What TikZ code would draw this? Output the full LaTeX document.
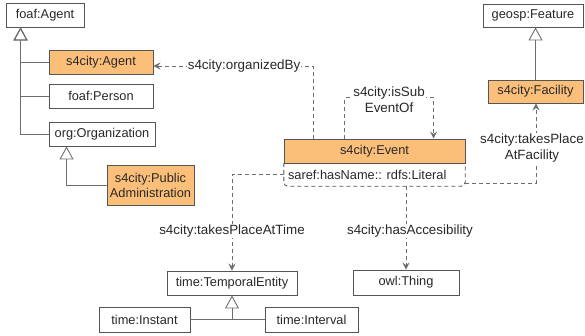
\documentclass[tikz,border=0pt]{standalone}
\usepackage{fontspec}
\setmainfont{Liberation Sans}
\usetikzlibrary{arrows.meta,calc}
\definecolor{orangefill}{RGB}{252,191,122}
\definecolor{boxline}{RGB}{85,85,85}
\definecolor{edgeline}{RGB}{110,110,110}
\definecolor{txt}{RGB}{40,40,40}
\begin{document}
\begin{tikzpicture}[x=1pt,y=-1pt,
  font=\fontsize{12.8}{15}\selectfont,
  cls/.style={draw=boxline, line width=0.9pt, fill=white, inner sep=0pt, text=txt, align=center},
  hl/.style={cls, fill=orangefill},
  isa/.style={draw=edgeline, line width=0.9pt, -{Triangle[open, length=13pt, width=14pt, line width=0.9pt]}},
  dep/.style={draw=edgeline, line width=0.9pt, dash pattern=on 4pt off 3pt, -{Stealth[length=7pt, width=7pt, inset=2.5pt]}},
  lbl/.style={fill=white, text=txt, inner sep=1pt, align=center, font=\fontsize{13.4}{16}\selectfont}
]
\useasboundingbox (0,0) rectangle (585,335);

% classes
\node[cls, minimum width=78pt, minimum height=24pt] (foafAgent) at (45,15) {foaf:Agent};
\node[hl, minimum width=104pt, minimum height=24pt] (s4Agent) at (101,62) {s4city:Agent};
\node[cls, minimum width=104pt, minimum height=24pt] (foafPerson) at (101,96) {foaf:Person};
\node[cls, minimum width=106pt, minimum height=24pt] (orgOrg) at (102,134) {org:Organization};
\node[hl, minimum width=87pt, minimum height=40pt] (pubAdmin) at (150.5,185) {s4city:Public\\Administration};

\node[hl, minimum width=181pt, minimum height=24pt] (event) at (374.5,151) {s4city:Event};
\node[inner sep=0pt, minimum width=181pt, minimum height=23pt] (attr) at (374.5,174.5) {};
\node[anchor=west, text=txt, inner sep=0pt] (attrtxt) at ($(attr.west)+(4,0)$) {saref:hasName:: rdfs:Literal};

\node[cls, minimum width=100pt, minimum height=23pt] (geosp) at (533,15.5) {geosp:Feature};
\node[hl, minimum width=95pt, minimum height=23pt] (facility) at (535.5,91.5) {s4city:Facility};

\node[cls, minimum width=130pt, minimum height=24pt] (temporal) at (232,283) {time:TemporalEntity};
\node[cls, minimum width=106pt, minimum height=25pt] (owlThing) at (406,282.5) {owl:Thing};
\node[cls, minimum width=91pt, minimum height=25pt] (instant) at (144.5,319.5) {time:Instant};
\node[cls, minimum width=93pt, minimum height=25pt] (interval) at (311.5,319.5) {time:Interval};

% attribute compartment outline
\draw[boxline, line width=0.9pt, dash pattern=on 4pt off 3pt, rounded corners=4pt]
  (attr.north west) -- (attr.south west) -- (attr.south east) -- (attr.north east);

% subclass edges
\draw[isa] (foafPerson.west) -| ($(foafAgent.south west)+(15,0)$);
\draw[isa] (orgOrg.west) -| ($(foafAgent.south west)+(15,0)$);
\draw[isa] (s4Agent.west) -| ($(foafAgent.south west)+(15,0)$);
\draw[isa] (pubAdmin.west) -| ($(orgOrg.south west)+(18,0)$);
\draw[isa] (facility.north) -- (facility.north |- geosp.south);
\draw[draw=edgeline, line width=0.9pt] (instant.east) -- (interval.west);
\draw[isa] (temporal.south |- instant.east) -- (temporal.south);

% object properties
\draw[dep] ($(event.north west)+(30,0)$) |- ($(s4Agent.east)+(0,4)$)
  node[lbl, pos=0.717] (lOrg) {s4city:organizedBy};

\coordinate (subA) at ($(event.north west)+(61,0)$);
\coordinate (subB) at ($(event.north west)+(150,0)$);
\draw[dep] (subA) -- ($(subA)+(0,-41)$) -- node[lbl, yshift=-2pt] (lSub) {s4city:isSub\\EventOf} ($(subB)+(0,-41)$) -- (subB);

\draw[dep] (attr.west) -| (temporal.north);
\node[lbl] (lTime) at (232,231) {s4city:takesPlaceAtTime};
\draw[dep] (owlThing.north |- attr.south) -- (owlThing.north);
\node[lbl] (lAcc) at (410,231) {s4city:hasAccesibility};
\draw[dep] ($(attr.south east)+(0,-3)$) -| ($(facility.south)+(0.5,0)$);
\node[lbl] (lFac) at (532,148) {s4city:takesPlace\\AtFacility};
\end{tikzpicture}
\end{document}
